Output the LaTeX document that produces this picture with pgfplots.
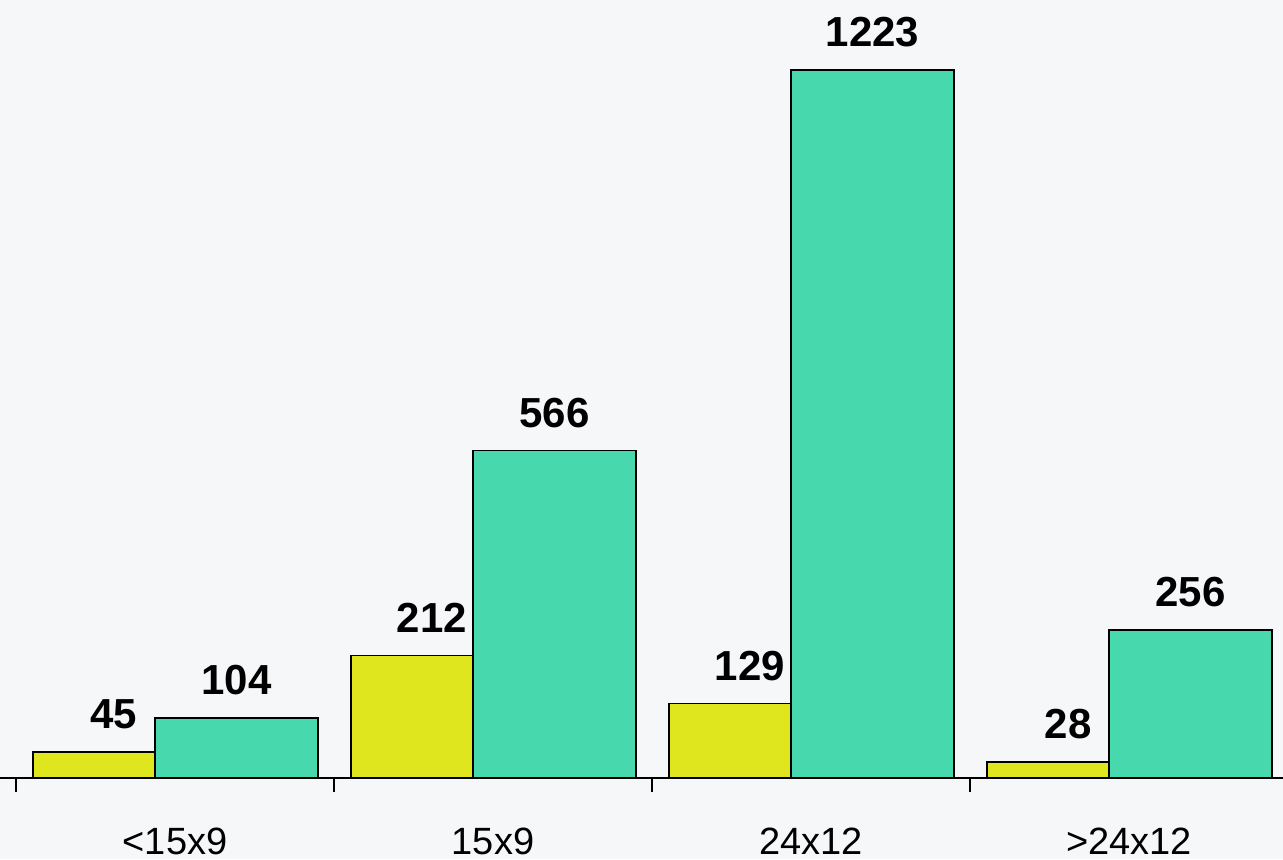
\documentclass[border=0pt]{standalone}
\usepackage{pgfplots}
\pgfplotsset{compat=1.18}
\usepackage{fontspec}
\setmainfont{Liberation Sans}

\definecolor{bg}{HTML}{F6F7F9}
\definecolor{barYellow}{HTML}{E0E61E}
\definecolor{barTeal}{HTML}{48D8AE}

% 1 px of the reference = 0.5pt
\begin{document}
\begin{tikzpicture}
\fill[bg] (0,-40.5pt) rectangle (641.5pt,389pt);
\begin{axis}[
    at={(0,0)}, anchor=south west,
    scale only axis,
    width=641.5pt, height=389pt,
    xmin=-0.55031, xmax=3.48428,
    ymin=0, ymax=1343.7,
    axis x line=bottom,
    hide y axis,
    x axis line style={-, line width=0.75pt},
    xtick={0,1,2,3},
    xticklabels={<15x9, 15x9, 24x12, >24x12},
    major tick length=0pt,
    xticklabel style={font=\fontsize{19}{22}\selectfont, anchor=base, yshift=-38pt},
    extra x ticks={-0.5,0.5,1.5,2.5},
    extra x tick labels={},
    extra x tick style={major tick length=7pt, tick align=outside,
        tick style={black, line width=0.75pt}},
    /pgf/number format/assume math mode=true,
    /pgf/number format/1000 sep={},
    ybar,
    nodes near coords,
    every node near coord/.append style={font=\fontsize{21}{25}\selectfont\bfseries,
        anchor=south, inner sep=0pt, yshift=11pt},
    clip=false,
]
\addplot[draw=black, line width=0.75pt, fill=barYellow, bar width=0.3836, bar shift=-0.2547,
    every node near coord/.append style={xshift=10pt}]
    coordinates {(0,45) (1,212) (2,129) (3,28)};
\addplot[draw=black, line width=0.75pt, fill=barTeal, bar width=0.5126, bar shift=0.1934]
    coordinates {(0,104) (1,566) (2,1223) (3,256)};
\end{axis}
\pgfresetboundingbox
\path[use as bounding box] (0,-40.5pt) rectangle (641.5pt,389pt);
\end{tikzpicture}
\end{document}
